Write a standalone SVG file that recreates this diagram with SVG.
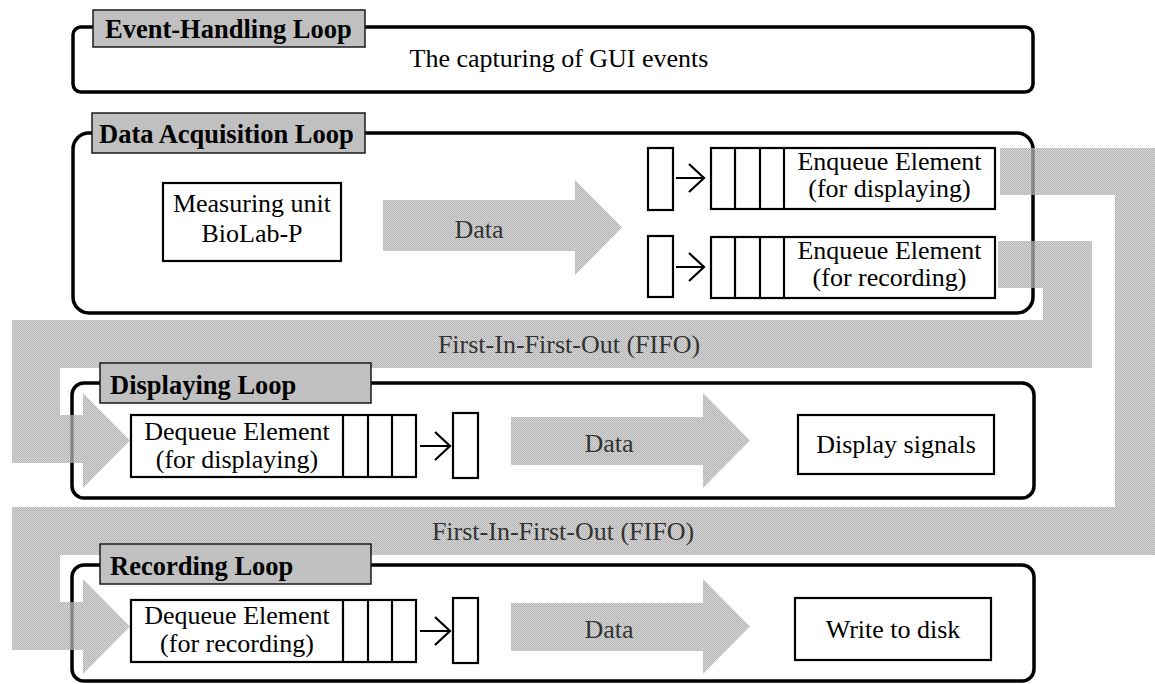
<svg xmlns="http://www.w3.org/2000/svg" width="1155" height="684" viewBox="0 0 1155 684">
<style>
.loop{fill:#fff;stroke:#000;stroke-width:3.5}
.hdr{fill:#c0c0c0;stroke:#1a1a1a;stroke-width:1.5}
.ht{font-family:"Liberation Serif","Times New Roman",serif;font-size:26.5px;font-weight:bold;fill:#000}
.t{font-family:"Liberation Serif","Times New Roman",serif;font-size:26px;fill:#000;text-anchor:middle}
.gt{font-family:"Liberation Serif","Times New Roman",serif;font-size:26px;fill:#333;text-anchor:middle}
.box{fill:#fff;stroke:#000;stroke-width:2.2}
.ln{fill:none;stroke:#000;stroke-width:2.2}
.flow{fill:url(#dots);opacity:0.75}
</style>
<defs>
<pattern id="dots" width="2" height="2" patternUnits="userSpaceOnUse">
<rect width="2" height="2" fill="#cacaca"/>
<rect width="1" height="1" fill="#9a9a9a"/>
<rect x="1" y="1" width="1" height="1" fill="#9a9a9a"/>
</pattern>
</defs>

<g id="event-loop">
<rect class="loop" x="73" y="27" width="960" height="65" rx="8"/>
<text class="t" x="559" y="67">The capturing of GUI events</text>
</g>
<g id="daq-loop">
<rect class="loop" x="73" y="133" width="960" height="180" rx="16"/>
</g>
<g id="display-loop">
<rect class="loop" x="72" y="383" width="962" height="115" rx="12"/>
</g>
<g id="record-loop">
<rect class="loop" x="72" y="565" width="962" height="116" rx="12"/>
</g>

<g id="connectors">
<path class="flow" d="M998,241 H1092 V368 H60 V415 H83 V393 L130,440.5 L83,488 V463 H12 V320 H1043 V288 H998 Z"/>
<path class="flow" d="M1000,148 H1165 V555 H60 V602 H83 V579 L130,626.5 L83,674 V650 H12 V507 H1115 V195 H1000 Z"/>
<path class="flow" d="M383,200 H575 V180 L622,227.5 L575,275 V251 H383 Z"/>
<path class="flow" d="M511,417 H703 V393 L750,440.5 L703,488 V465 H511 Z"/>
<path class="flow" d="M511,603 H703 V579 L750,626.5 L703,674 V651 H511 Z"/>
<text class="gt" x="479" y="238">Data</text>
<text class="gt" x="609" y="452">Data</text>
<text class="gt" x="609" y="638">Data</text>
<text class="gt" x="569" y="353">First-In-First-Out (FIFO)</text>
<text class="gt" x="563" y="540">First-In-First-Out (FIFO)</text>
<path class="ln" d="M676,178 H704 M689,164 L704,178 L689,192"/>
<path class="ln" d="M676,267 H704 M689,253 L704,267 L689,281"/>
<path class="ln" d="M420,446 H450 M435,432 L450,446 L435,460"/>
<path class="ln" d="M420,631 H450 M435,617 L450,631 L435,645"/>
</g>

<g id="event-header">
<rect class="hdr" x="93" y="10" width="272" height="37"/>
<text class="ht" x="105" y="38">Event-Handling Loop</text>
</g>
<g id="daq-header">
<rect class="hdr" x="92" y="113" width="273" height="40"/>
<text class="ht" x="99" y="143">Data Acquisition Loop</text>
</g>
<g id="display-header">
<rect class="hdr" x="100" y="363" width="271" height="40"/>
<text class="ht" x="110" y="394">Displaying Loop</text>
</g>
<g id="record-header">
<rect class="hdr" x="100" y="544" width="271" height="40"/>
<text class="ht" x="110" y="575">Recording Loop</text>
</g>

<g id="measuring-unit">
<rect class="box" x="163" y="183" width="178" height="78"/>
<text class="t" x="252" y="212">Measuring unit</text>
<text class="t" x="252" y="242">BioLab-P</text>
</g>

<g id="enqueue-display">
<rect class="box" x="648" y="148" width="25" height="62"/>
<rect class="box" x="711" y="148" width="284" height="61"/>
<path class="ln" d="M735,148 V209 M760,148 V209 M784,148 V209"/>
<text class="t" x="889.5" y="170">Enqueue Element</text>
<text class="t" x="889.5" y="197">(for displaying)</text>
</g>
<g id="enqueue-record">
<rect class="box" x="648" y="236" width="25" height="61"/>
<rect class="box" x="711" y="237" width="284" height="61"/>
<path class="ln" d="M735,237 V298 M760,237 V298 M784,237 V298"/>
<text class="t" x="889.5" y="259">Enqueue Element</text>
<text class="t" x="889.5" y="286">(for recording)</text>
</g>

<g id="dequeue-display">
<rect class="box" x="131" y="415" width="285" height="62"/>
<path class="ln" d="M343,415 V477 M368,415 V477 M392,415 V477"/>
<rect class="box" x="453" y="413" width="25" height="65"/>
<text class="t" x="237" y="440">Dequeue Element</text>
<text class="t" x="237" y="468">(for displaying)</text>
</g>
<g id="display-signals">
<rect class="box" x="798" y="415" width="196" height="59"/>
<text class="t" x="896" y="453">Display signals</text>
</g>

<g id="dequeue-record">
<rect class="box" x="131" y="600" width="285" height="62"/>
<path class="ln" d="M343,600 V662 M368,600 V662 M392,600 V662"/>
<rect class="box" x="453" y="598" width="25" height="65"/>
<text class="t" x="237" y="624">Dequeue Element</text>
<text class="t" x="237" y="652">(for recording)</text>
</g>
<g id="write-disk">
<rect class="box" x="795" y="598" width="196" height="62"/>
<text class="t" x="893" y="638">Write to disk</text>
</g>
</svg>
